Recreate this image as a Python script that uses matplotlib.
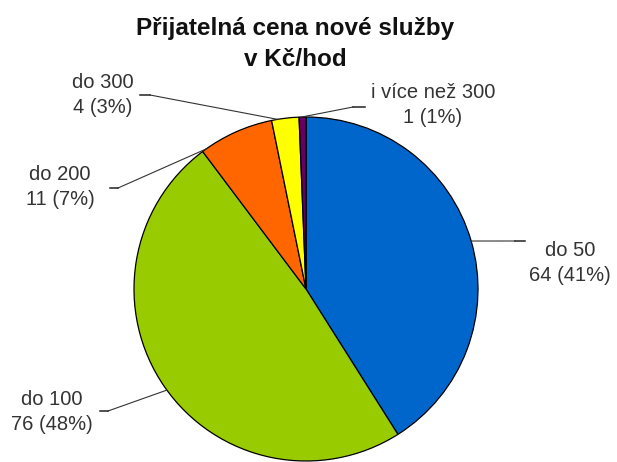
import matplotlib.pyplot as plt
import numpy as np

plt.rcParams['font.family'] = ['Liberation Sans', 'DejaVu Sans']

# data
categories = ["do 50", "do 100", "do 200", "do 300", "i více než 300"]
counts = [64, 76, 11, 4, 1]
pct_labels = ["41%", "48%", "7%", "3%", "1%"]
colors = ["#0066CC", "#99CC00", "#FF6600", "#FFFF00", "#660066"]

# layout (pixels, y from top)
W, H = 617, 462
cx, cy, r = 306, 289, 172
anchor_ang = [73.8, 234.0, 324.5, 350.5, 358.5]   # clockwise from top
elbow = [(515, 241), (108, 411), (118, 188), (150, 95), (353, 107)]
tick_end = [(525, 241), (100, 411), (110, 188), (140, 95), (365, 107)]
text_pos = [(570, 263), (52, 412), (60, 187), (103, 95), (433, 105)]

fig = plt.figure(figsize=(W / 100, H / 100), dpi=100)
ax = fig.add_axes([0, 0, 1, 1])

ax.pie(counts, colors=colors, startangle=90, counterclock=False,
       center=(cx, H - cy), radius=r, frame=True,
       wedgeprops=dict(edgecolor='black', linewidth=0.9))
ax.set_xlim(0, W)
ax.set_ylim(0, H)
ax.axis('off')

for i in range(len(categories)):
    a = np.radians(anchor_ang[i])
    px = cx + r * np.sin(a)
    py = cy - r * np.cos(a)
    ex, ey = elbow[i]
    tx, ty = tick_end[i]
    ax.plot([px, ex], [H - py, H - ey], color='#333333', lw=0.8)
    ax.plot([ex, tx], [H - ey, H - ty], color='#222222', lw=1.1)
    x, y = text_pos[i]
    ax.text(x, H - y, f"{categories[i]}\n{counts[i]} ({pct_labels[i]})",
            ha='center', va='center', fontsize=14.5, color='#333333',
            linespacing=1.4)

ax.text(295, H - 44, "Přijatelná cena nové služby\nv Kč/hod", ha='center',
        va='center', fontsize=17.5, fontweight='bold', color='#111111',
        linespacing=1.45)

fig.savefig("out.png", dpi=100)
